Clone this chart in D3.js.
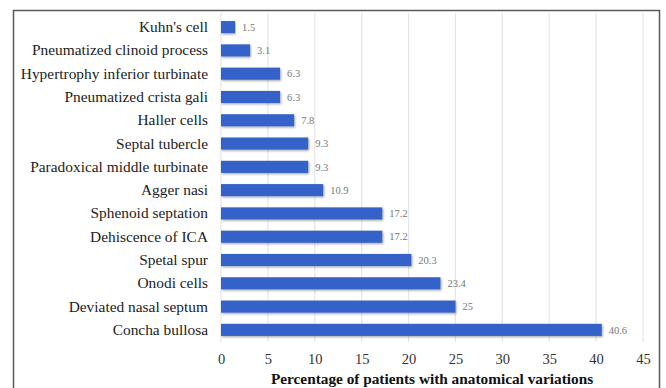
<!DOCTYPE html>
<html>
<head>
<meta charset="utf-8">
<script src="https://cdn.jsdelivr.net/npm/d3@7"></script>
<style>
  html, body { margin: 0; padding: 0; background: #fff; }
  svg { display: block; }
  svg text { font-family: 'Liberation Serif', 'Times New Roman', serif; }
</style>
</head>
<body>
<svg id="chart" width="666" height="388"></svg>
<script>
// Anatomical variations, listed from top to bottom of the chart
const categories = [
  "Kuhn's cell",
  "Pneumatized clinoid process",
  "Hypertrophy inferior turbinate",
  "Pneumatized crista gali",
  "Haller cells",
  "Septal tubercle",
  "Paradoxical middle turbinate",
  "Agger nasi",
  "Sphenoid septation",
  "Dehiscence of ICA",
  "Spetal spur",
  "Onodi cells",
  "Deviated nasal septum",
  "Concha bullosa"
];
const percentages = [1.5, 3.1, 6.3, 6.3, 7.8, 9.3, 9.3, 10.9, 17.2, 17.2, 20.3, 23.4, 25, 40.6];
const xTicks = [0, 5, 10, 15, 20, 25, 30, 35, 40, 45];
const xTitle = "Percentage of patients with anatomical variations";

const svg = d3.select("#chart");
const serif = "'Liberation Serif', 'Times New Roman', serif";

// outer frame (bottom edge falls below the visible area)
svg.append("rect")
  .attr("x", 13.5).attr("y", 10.5)
  .attr("width", 646).attr("height", 400)
  .attr("fill", "none")
  .attr("stroke", "#5a5a5a")
  .attr("stroke-width", 1.5);

const plot = { left: 221, right: 643, top: 15, bottom: 342 };

const x = d3.scaleLinear().domain([0, 45]).range([plot.left, plot.right]);
const y = d3.scaleBand().domain(categories)
  .range([plot.top, plot.bottom]).paddingInner(0.48).paddingOuter(0.26);

// drop shadow for bars
const defs = svg.append("defs");
const f = defs.append("filter").attr("id", "shadow")
  .attr("x", "-5%").attr("y", "-40%").attr("width", "110%").attr("height", "200%");
f.append("feDropShadow").attr("dx", 1).attr("dy", 1.2).attr("stdDeviation", 0.9)
  .attr("flood-color", "#000").attr("flood-opacity", 0.35);

// vertical gridlines
svg.append("g").selectAll("line")
  .data(xTicks)
  .join("line")
  .attr("x1", d => x(d)).attr("x2", d => x(d))
  .attr("y1", plot.top - 2).attr("y2", plot.bottom)
  .attr("stroke", "#e6e6e6").attr("stroke-width", 1.2);

// bars
svg.append("g").selectAll("rect")
  .data(percentages)
  .join("rect")
  .attr("x", x(0))
  .attr("y", (d, i) => y(categories[i]))
  .attr("width", d => x(d) - x(0))
  .attr("height", y.bandwidth())
  .attr("fill", "#3462c9")
  .attr("filter", "url(#shadow)");

// value labels
svg.append("g").selectAll("text")
  .data(percentages)
  .join("text")
  .attr("x", d => x(d) + 7)
  .attr("y", (d, i) => y(categories[i]) + y.bandwidth() / 2)
  .attr("dy", "0.35em")
  .style("font-family", serif)
  .style("font-size", "10.5px")
  .attr("fill", "#777")
  .text(d => d);

// category axis labels
const yAxis = d3.axisLeft(y).tickSize(0).tickPadding(13);
const gy = svg.append("g").attr("transform", `translate(${plot.left},0)`).call(yAxis);
gy.attr("font-family", null).attr("font-size", null);
gy.select(".domain").remove();
gy.selectAll("text")
  .style("font-family", serif)
  .style("font-size", "15.4px")
  .attr("fill", "#222");

// value axis
const xAxis = d3.axisBottom(x).tickValues(xTicks).tickSize(0).tickPadding(12);
const gx = svg.append("g").attr("transform", `translate(0,${plot.bottom})`).call(xAxis);
gx.attr("font-family", null).attr("font-size", null);
gx.select(".domain").remove();
gx.selectAll("text")
  .style("font-family", serif)
  .style("font-size", "14.5px")
  .attr("fill", "#333");

// axis title
svg.append("text")
  .attr("x", (plot.left + plot.right) / 2)
  .attr("y", 383.5)
  .attr("text-anchor", "middle")
  .style("font-family", serif)
  .style("font-weight", "bold")
  .style("font-size", "15.3px")
  .attr("fill", "#111")
  .text(xTitle);
</script>
</body>
</html>
